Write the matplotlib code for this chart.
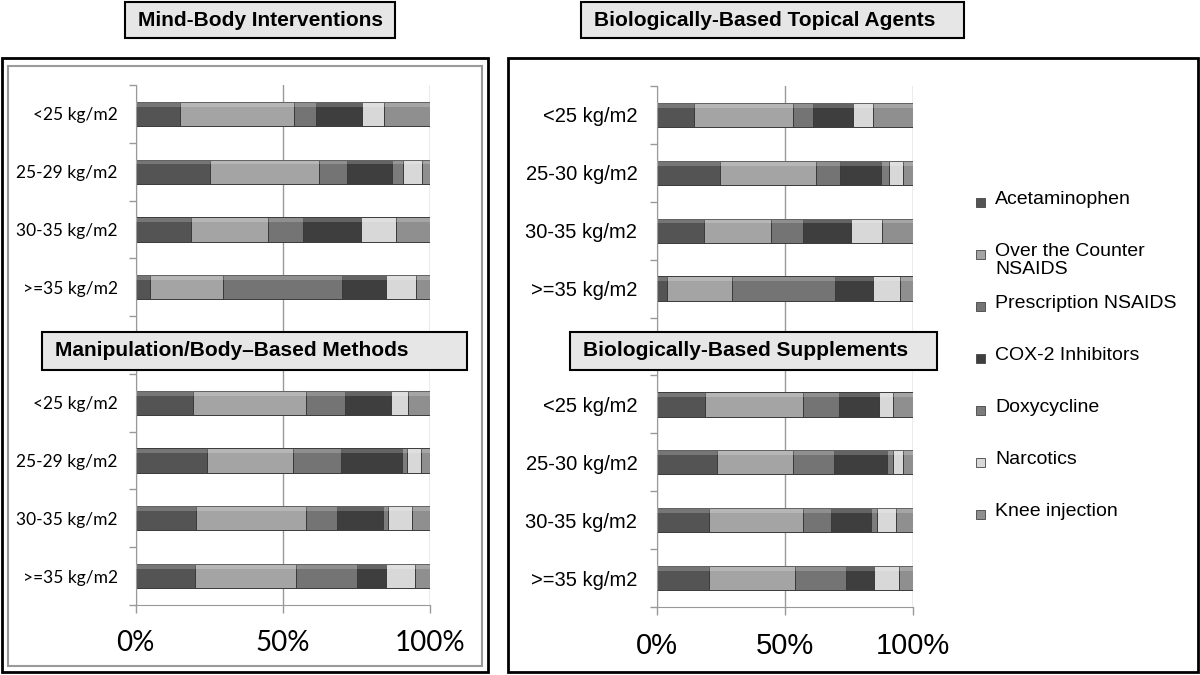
import numpy as np
import matplotlib.pyplot as plt
from matplotlib.patches import Rectangle

plt.rcParams['font.family'] = ['Liberation Sans', 'DejaVu Sans']

drugs = ['Acetaminophen', 'Over the Counter\nNSAIDS', 'Prescription NSAIDS',
         'COX-2 Inhibitors', 'Doxycycline', 'Narcotics', 'Knee injection']
shades = ['#545454', '#a4a4a4', '#747474', '#3e3e3e', '#7c7c7c', '#d8d8d8', '#8f8f8f']

bmi_left = ['<25 kg/m2', '25-29 kg/m2', '30-35 kg/m2', '>=35 kg/m2']
bmi_right = ['<25 kg/m2', '25-30 kg/m2', '30-35 kg/m2', '>=35 kg/m2']

# % of each BMI group by therapy, columns in the order of drugs
mind_body = [[15.1, 38.8, 7.4, 15.5, 0.0, 7.6, 15.6],
             [25.3, 37.1, 9.3, 15.5, 3.7, 6.3, 2.8],
             [18.8, 26.3, 11.9, 19.6, 0.0, 11.8, 11.6],
             [4.9, 24.7, 40.6, 14.8, 0.0, 10.2, 4.8]]
manipulation = [[19.4, 38.5, 13.2, 15.5, 0.0, 6.0, 7.4],
                [24.1, 29.5, 16.0, 20.8, 1.7, 4.7, 3.2],
                [20.5, 37.4, 10.4, 15.6, 1.9, 8.0, 6.2],
                [20.2, 34.3, 20.8, 9.7, 0.0, 9.9, 5.1]]
topical = [[14.5, 38.5, 8.0, 15.6, 0.0, 7.8, 15.6],
           [24.7, 37.4, 9.3, 15.9, 3.3, 5.5, 3.9],
           [18.6, 25.9, 12.4, 18.8, 0.0, 12.0, 12.3],
           [4.2, 25.0, 40.3, 14.9, 0.0, 10.4, 5.2]]
supplements = [[18.8, 38.2, 14.2, 15.5, 0.0, 5.3, 8.0],
               [23.6, 29.5, 16.1, 20.4, 2.4, 4.1, 3.9],
               [20.3, 36.7, 10.9, 15.5, 2.4, 7.5, 6.7],
               [20.3, 33.7, 19.8, 10.7, 0.0, 10.1, 5.4]]

W, H = 1200, 675
fig = plt.figure(figsize=(12, 6.75), dpi=100)


def box(x0, y0, x1, y1, **kw):
    r = Rectangle((x0 / W, 1 - y1 / H), (x1 - x0) / W, (y1 - y0) / H,
                  transform=fig.transFigure, **kw)
    fig.add_artist(r)


def title_box(x0, y0, x1, y1, text):
    box(x0, y0, x1, y1, facecolor='#e6e6e6', edgecolor='black', lw=1.5, zorder=5)
    fig.text((x0 + 13) / W, 1 - (y0 + y1) / 2 / H, text, fontsize=15,
             fontweight='bold', va='center', ha='left', zorder=6)


def panel(rect, top, bottom, labels, lab_font, lab_size, lab_pad, tick_font, tick_size):
    ax = fig.add_axes(rect)
    slots = [0, 1, 2, 3, 5, 6, 7, 8]   # slot 4 stays empty under the second title
    data = np.array(top + bottom)
    start = np.zeros(len(slots))
    for j in range(len(drugs)):
        ax.barh(slots, data[:, j], left=start, height=0.42, color=shades[j],
                edgecolor='#3a3a3a', linewidth=0.7, zorder=2)
        # light strip along the top edge for the bevelled look
        ax.barh(np.array(slots) - 0.165, data[:, j], left=start, height=0.08,
                color='white', alpha=0.2, linewidth=0, zorder=3)
        start += data[:, j]
    ax.set_xlim(0, 100)
    ax.set_ylim(8.5, -0.5)
    ax.set_yticks(slots)
    ax.set_yticklabels(labels + labels, fontfamily=lab_font, fontsize=lab_size)
    ax.set_yticks(np.arange(-0.5, 9, 1), minor=True)
    ax.tick_params(axis='y', which='major', length=0, pad=lab_pad)
    ax.tick_params(axis='y', which='minor', length=5, color='#999999', width=1)
    ax.set_xticks([0, 50, 100])
    ax.set_xticklabels(['0%', '50%', '100%'], fontfamily=tick_font, fontsize=tick_size)
    ax.tick_params(axis='x', length=6, color='#999999', width=1, pad=12)
    ax.grid(axis='x', color='#999999', lw=1)
    ax.set_axisbelow(True)
    for s in ['top', 'right']:
        ax.spines[s].set_visible(False)
    for s in ['left', 'bottom']:
        ax.spines[s].set_color('#999999')
    ax.patch.set_alpha(0)
    return ax


# panel frames
box(2, 58, 488, 672, facecolor='none', edgecolor='black', lw=2)
box(8, 66, 482, 666, facecolor='none', edgecolor='#9a9a9a', lw=1.5)
box(508, 58, 1198, 672, facecolor='none', edgecolor='black', lw=2)

panel([135.7 / W, 1 - 605 / H, 294.3 / W, 520 / H], mind_body, manipulation,
      bmi_left, ['Lato', 'DejaVu Sans'], 12.5, 13, ['Lato', 'DejaVu Sans'], 20)
panel([656.7 / W, 1 - 607 / H, 256.6 / W, 521 / H], topical, supplements,
      bmi_right, ['Liberation Sans', 'DejaVu Sans'], 14.5, 14,
      ['Liberation Sans', 'DejaVu Sans'], 21)

title_box(125, 2, 395, 38, 'Mind-Body Interventions')
title_box(581, 2, 964, 38, 'Biologically-Based Topical Agents')
title_box(42, 332, 467, 370, 'Manipulation/Body\u2013Based Methods')
title_box(570, 332, 937, 370, 'Biologically-Based Supplements')

# legend, laid out by hand like the original
for i, (name, col) in enumerate(zip(drugs, shades)):
    yc = 202 + 52 * i
    box(976, yc - 4.5, 985, yc + 4.5, facecolor=col, edgecolor='#444444', lw=0.6)
    fig.text(995 / W, 1 - (yc - 11) / H, name, fontsize=14, va='top', ha='left',
             linespacing=1.05)

fig.savefig('out.png', dpi=100)
